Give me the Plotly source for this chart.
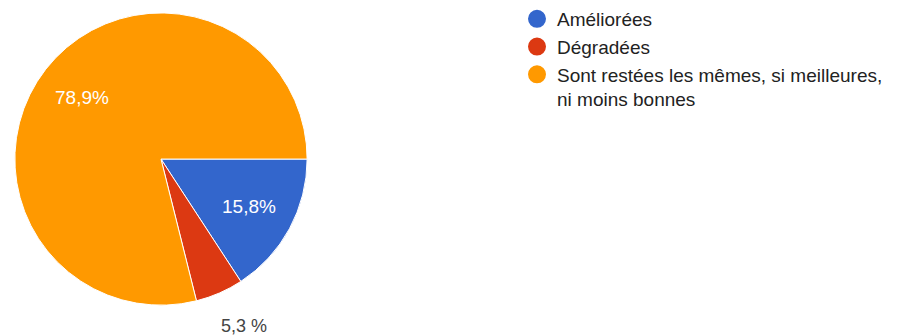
import math
import plotly.graph_objects as go

# Survey answers and their shares (%)
categories = ["Améliorées", "Dégradées", "Sont restées les mêmes, si meilleures, ni moins bonnes"]
legend_labels = ["Améliorées", "Dégradées", "Sont restées les mêmes, si meilleures,<br>ni moins bonnes"]
shares = [15.8, 5.3, 78.9]
colors = ["#3366CC", "#DC3912", "#FF9900"]
label_inside = [True, False, True]

W, H = 899, 335
FONT = "Liberation Sans, Arial, sans-serif"

# Pie box in pixels (square)
PIE_L, PIE_R, PIE_T, PIE_B = 14, 308, 11, 305
CX, CY = (PIE_L + PIE_R) / 2, (PIE_T + PIE_B) / 2
R = (PIE_R - PIE_L) / 2


def fmt(v, gap=""):
    return f"{v:.1f}".replace(".", ",") + gap + "%"


fig = go.Figure()

fig.add_trace(go.Pie(
    labels=categories,
    values=shares,
    textinfo="none",
    marker=dict(colors=colors, line=dict(color="white", width=1)),
    sort=False,
    direction="clockwise",
    rotation=90,
    showlegend=False,
    hoverinfo="label+percent",
    domain=dict(x=[PIE_L / W, PIE_R / W], y=[1 - PIE_B / H, 1 - PIE_T / H]),
))

# Percentage labels placed along each slice's bisector
total = sum(shares)
start = 0.0
for v, inside in zip(shares, label_inside):
    sweep = 360.0 * v / total
    mid = math.radians(start + sweep / 2)  # clockwise from 3 o'clock
    start += sweep
    k = 0.68 if inside else 1.25
    px = CX + k * R * math.cos(mid)
    py = CY + k * R * math.sin(mid)
    fig.add_annotation(
        x=px / W, y=1 - py / H, xref="paper", yref="paper",
        text=fmt(v) if inside else fmt(v, " "),
        showarrow=False, xanchor="center", yanchor="middle",
        xshift=0 if inside else 9,
        font=dict(family=FONT, size=19 if inside else 18,
                  color="white" if inside else "#444444"),
    )

# Legend entries with round swatches
for name, col in zip(legend_labels, colors):
    fig.add_trace(go.Scatter(
        x=[None], y=[None], mode="markers", name=name,
        marker=dict(symbol="circle", size=16, color=col, line=dict(color=col, width=2)),
    ))

fig.update_layout(
    width=W, height=H,
    margin=dict(l=0, r=0, t=0, b=0),
    paper_bgcolor="white",
    plot_bgcolor="white",
    font=dict(family=FONT, size=19, color="#222222"),
    xaxis=dict(visible=False, domain=[0.7, 0.71]),
    yaxis=dict(visible=False),
    showlegend=True,
    legend=dict(
        x=517 / W, y=1 + 2 / H, xanchor="left", yanchor="top",
        valign="top", font=dict(family=FONT, size=19, color="#222222"),
        bgcolor="rgba(0,0,0,0)", itemsizing="trace",
    ),
)

fig.write_html("out.html")
